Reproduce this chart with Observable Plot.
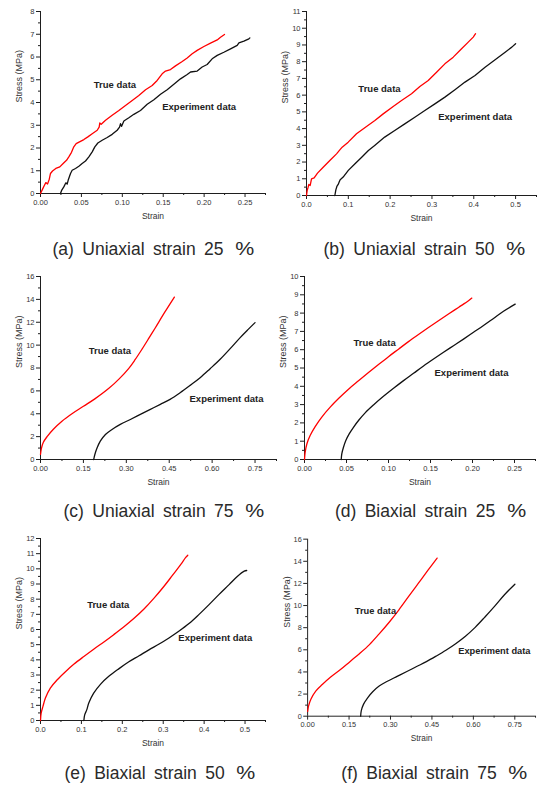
<!DOCTYPE html>
<html>
<head>
<meta charset="utf-8">
<script src="https://cdn.jsdelivr.net/npm/d3@7"></script>
<script src="https://cdn.jsdelivr.net/npm/@observablehq/plot@0.6"></script>
<style>
  html, body { margin: 0; padding: 0; background: #fff; }
  #fig { position: relative; width: 537px; height: 786px; overflow: hidden; background: #fff; }
  .panel { position: absolute; }
  .cap { position: absolute; width: 300px; height: 24px; line-height: 24px; text-align: center;
         font-family: 'Liberation Sans', Arial, sans-serif; font-size: 17.5px; color: #2a2a2a;
         word-spacing: 3.5px; white-space: nowrap; }
  .cap .pct { display: inline-block; transform: scaleX(1.22); margin-left: 5px; }
</style>
</head>
<body>
<div id="fig"></div>
<script>
// ---------- data ----------
// (a) Uniaxial strain 25 %
const aTrueStrain = [0,0.0024,0.0045,0.0065,0.0086,0.0106,0.0122,0.0147,0.0187,0.0236,0.0277,0.0318,0.0346,0.0379,0.0407,0.0436,0.0477,0.053,0.0579,0.0632,0.0693,0.0717,0.0725,0.0742,0.0795,0.0876,0.0958,0.1039,0.1121,0.1202,0.1284,0.1365,0.1426,0.1487,0.1528,0.1589,0.165,0.1732,0.1793,0.1854,0.1915,0.1997,0.2078,0.216,0.22,0.2249];
const aTrueStress = [0,0.18,0.34,0.48,0.42,0.61,0.88,0.99,1.10,1.17,1.32,1.46,1.61,1.81,2.05,2.19,2.27,2.37,2.49,2.63,2.78,2.92,3.10,3.04,3.22,3.44,3.65,3.87,4.09,4.31,4.56,4.75,4.97,5.26,5.38,5.45,5.61,5.80,5.96,6.14,6.29,6.46,6.61,6.75,6.87,6.99];
const aExpStrain = [0.0244,0.026,0.0285,0.031,0.0326,0.0338,0.0355,0.0367,0.0387,0.0428,0.0469,0.0509,0.055,0.0591,0.0632,0.0664,0.0701,0.0754,0.0815,0.0876,0.0937,0.0966,0.0978,0.099,0.1019,0.108,0.1141,0.1222,0.1304,0.1386,0.1467,0.1548,0.163,0.1711,0.1793,0.1834,0.1915,0.1976,0.2037,0.2098,0.216,0.2241,0.2323,0.2404,0.2425,0.2486,0.2547,0.2559];
const aExpStress = [0,0.15,0.29,0.47,0.41,0.58,0.76,0.88,1.02,1.10,1.20,1.32,1.43,1.61,1.83,2.05,2.22,2.34,2.46,2.60,2.78,2.92,3.07,2.95,3.19,3.33,3.48,3.65,3.92,4.12,4.36,4.56,4.80,5.04,5.23,5.34,5.38,5.56,5.67,5.92,6.07,6.21,6.36,6.51,6.62,6.70,6.80,6.84];

// (b) Uniaxial strain 50 %
const bTrueStrain = [0,0.0016,0.004,0.0056,0.0088,0.0104,0.012,0.0183,0.0263,0.0399,0.0558,0.0718,0.0797,0.0853,0.0997,0.1196,0.1435,0.1635,0.1834,0.2073,0.2273,0.2512,0.2711,0.2911,0.311,0.3309,0.3509,0.3708,0.3868,0.3987,0.4043];
const bTrueStress = [0,0.3,0.5,0.66,0.6,0.8,1.0,1.06,1.34,1.69,2.09,2.49,2.73,2.89,3.19,3.69,4.13,4.48,4.88,5.32,5.68,6.08,6.52,6.88,7.37,7.87,8.27,8.77,9.17,9.47,9.67];
const bExpStrain = [0.0678,0.0702,0.0726,0.0758,0.0781,0.0805,0.0877,0.1,0.116,0.132,0.148,0.163,0.187,0.211,0.235,0.259,0.283,0.307,0.331,0.355,0.379,0.403,0.427,0.451,0.475,0.491,0.5];
const bExpStress = [0,0.34,0.54,0.66,0.8,0.94,1.1,1.5,1.9,2.29,2.69,2.99,3.49,3.89,4.28,4.68,5.08,5.48,5.88,6.32,6.78,7.17,7.67,8.11,8.57,8.87,9.07];

// (c) Uniaxial strain 75 %
const cTrueStrain = [0,0.003,0.01,0.023,0.045,0.075,0.11,0.15,0.19,0.238,0.275,0.308,0.33,0.355,0.38,0.401,0.435,0.468];
const cTrueStress = [0.44,0.95,1.5,2.0,2.65,3.35,4.0,4.65,5.3,6.2,7.05,7.95,8.7,9.65,10.65,11.5,12.9,14.2];
const cExpStrain = [0.186,0.19,0.198,0.209,0.227,0.25,0.279,0.314,0.349,0.384,0.419,0.453,0.488,0.523,0.558,0.593,0.628,0.663,0.698,0.727,0.75];
const cExpStress = [0,0.44,1.02,1.6,2.19,2.63,3.07,3.5,3.94,4.38,4.82,5.26,5.84,6.48,7.15,7.94,8.76,9.69,10.66,11.4,11.97];

// (d) Biaxial strain 25 %
const dTrueStrain = [0,0.0008,0.0028,0.0067,0.0127,0.0206,0.0306,0.0405,0.0524,0.0643,0.0762,0.0881,0.1,0.1119,0.1238,0.1357,0.1476,0.1595,0.1714,0.1833,0.1952,0.1992];
const dTrueStress = [0,0.4,0.85,1.31,1.80,2.32,2.86,3.33,3.84,4.30,4.75,5.19,5.62,6.03,6.44,6.83,7.21,7.58,7.95,8.31,8.67,8.82];
const dExpStrain = [0.0437,0.0444,0.0464,0.0492,0.0532,0.0583,0.0643,0.0722,0.0821,0.094,0.106,0.1179,0.1298,0.1417,0.1536,0.1655,0.1774,0.1893,0.2012,0.2131,0.225,0.2369,0.2508];
const dExpStress = [0,0.31,0.67,1.04,1.4,1.76,2.13,2.55,2.98,3.45,3.89,4.31,4.71,5.11,5.49,5.86,6.22,6.58,6.95,7.32,7.71,8.1,8.49];

// (e) Biaxial strain 50 %
const eTrueStrain = [0,0.0016,0.006,0.012,0.024,0.041,0.061,0.082,0.106,0.13,0.155,0.179,0.204,0.228,0.253,0.277,0.302,0.322,0.343,0.355,0.36];
const eTrueStress = [0,0.48,0.93,1.48,2.14,2.69,3.22,3.72,4.22,4.70,5.18,5.66,6.18,6.72,7.35,8.05,8.85,9.55,10.3,10.75,10.9];
const eExpStrain = [0.106,0.108,0.113,0.118,0.13,0.147,0.167,0.192,0.216,0.241,0.265,0.29,0.314,0.338,0.363,0.387,0.412,0.436,0.461,0.481,0.498,0.504];
const eExpStress = [0,0.37,0.7,1.15,1.8,2.4,2.91,3.42,3.87,4.27,4.66,5.04,5.44,5.88,6.39,6.98,7.64,8.3,8.96,9.5,9.85,9.89];

// (f) Biaxial strain 75 %
const fTrueStrain = [0,0.0035,0.0118,0.0294,0.053,0.0824,0.1178,0.1531,0.1885,0.2238,0.2591,0.2945,0.3298,0.3651,0.4005,0.4358,0.4688];
const fTrueStress = [0.44,0.94,1.54,2.27,2.86,3.51,4.19,4.93,5.67,6.47,7.44,8.47,9.59,10.8,12.0,13.2,14.29];
const fExpStrain = [0.192,0.1943,0.2026,0.2179,0.2356,0.2591,0.2886,0.3239,0.3592,0.3946,0.4299,0.4652,0.5006,0.5359,0.5713,0.6066,0.642,0.6773,0.7126,0.7503];
const fExpStress = [0,0.5,1.09,1.68,2.21,2.72,3.16,3.6,4.04,4.49,4.93,5.43,5.96,6.55,7.23,8.03,8.97,9.95,10.98,11.93];

// tick values
const strainTicks025 = [0, 0.05, 0.10, 0.15, 0.20, 0.25];
const strainTicks050 = [0, 0.1, 0.2, 0.3, 0.4, 0.5];
const strainTicks075 = [0, 0.15, 0.30, 0.45, 0.60, 0.75];
const stressTicks8 = [0,1,2,3,4,5,6,7,8];
const stressTicks10 = [0,1,2,3,4,5,6,7,8,9,10];
const stressTicks11 = [0,1,2,3,4,5,6,7,8,9,10,11];
const stressTicks12 = [0,1,2,3,4,5,6,7,8,9,10,11,12];
const stressTicks16 = [0,2,4,6,8,10,12,14,16];

const captions = ["(a) Uniaxial strain 25", "(b) Uniaxial strain 50", "(c) Uniaxial strain 75",
                  "(d) Biaxial strain 25", "(e) Biaxial strain 50", "(f) Biaxial strain 75"];
const trueLabel = "True data";
const expLabel = "Experiment data";

// ---------- drawing ----------
const minorBetween = (ticks, end) => {
  const step = (ticks[1] - ticks[0]) / 2;
  const out = [];
  for (let i = 0; ticks[0] + i * step <= end + 1e-9; i++) {
    if (i % 2 === 1) out.push(+(ticks[0] + i * step).toFixed(6));
  }
  return out;
};

const panels = [
  {left: 0,   top: 0,   width: 268, ml: 40, mr: 3, mt: 11, mb: 37, xEnd: 0.275, yEnd: 8,
   xTicks: strainTicks025, yTicks: stressTicks8, xFmt: ".2f",
   tx: aTrueStrain, ty: aTrueStress, ex: aExpStrain, ey: aExpStress, curve: "linear",
   tl: [0.0652, 4.75], el: [0.1488, 3.81], cap: captions[0], capX: 152.5},
  {left: 268, top: 0,   width: 269, ml: 38, mr: 1, mt: 11, mb: 35, xEnd: 0.55, yEnd: 11,
   xTicks: strainTicks050, yTicks: stressTicks11, xFmt: ".1f",
   tx: bTrueStrain, ty: bTrueStress, ex: bExpStrain, ey: bExpStress, curve: "linear",
   tl: [0.124, 6.38], el: [0.315, 4.72], cap: captions[1], capX: 423.5},
  {left: 0,   top: 262, width: 280, ml: 40, mr: 4, mt: 14, mb: 33, xEnd: 0.825, yEnd: 16,
   xTicks: strainTicks075, yTicks: stressTicks16, xFmt: ".2f",
   tx: cTrueStrain, ty: cTrueStress, ex: cExpStrain, ey: cExpStress, curve: "catmull-rom",
   tl: [0.169, 9.49], el: [0.521, 5.31], cap: captions[2], capX: 163},
  {left: 268, top: 262, width: 269, ml: 36, mr: 2, mt: 14, mb: 33, xEnd: 0.275, yEnd: 10,
   xTicks: strainTicks025, yTicks: stressTicks10, xFmt: ".2f",
   tx: dTrueStrain, ty: dTrueStress, ex: dExpStrain, ey: dExpStress, curve: "catmull-rom",
   tl: [0.0583, 6.36], el: [0.1548, 4.71], cap: captions[3], capX: 429.5},
  {left: 0,   top: 524, width: 268, ml: 40, mr: 3, mt: 14, mb: 34, xEnd: 0.55, yEnd: 12,
   xTicks: strainTicks050, yTicks: stressTicks12, xFmt: ".1f",
   tx: eTrueStrain, ty: eTrueStress, ex: eExpStrain, ey: eExpStress, curve: "catmull-rom",
   tl: [0.114, 7.64], el: [0.337, 5.44], cap: captions[4], capX: 159},
  {left: 268, top: 524, width: 275, ml: 40, mr: 2, mt: 15, mb: 34, xEnd: 0.825, yEnd: 16,
   xTicks: strainTicks075, yTicks: stressTicks16, xFmt: ".2f",
   tx: fTrueStrain, ty: fTrueStress, ex: fExpStrain, ey: fExpStress, curve: "catmull-rom",
   tl: [0.1708, 9.5], el: [0.5453, 5.87], cap: captions[5], capX: 433.5}
];

const fig = document.getElementById("fig");
const ink = "#1e1e1e";

for (const p of panels) {
  const trueData = p.tx.map((x, i) => ({strain: x, stress: p.ty[i]}));
  const expData = p.ex.map((x, i) => ({strain: x, stress: p.ey[i]}));
  const svg = Plot.plot({
    width: p.width, height: 230,
    marginLeft: p.ml, marginRight: p.mr, marginTop: p.mt, marginBottom: p.mb,
    style: {fontFamily: "'Liberation Sans', Arial, sans-serif", fontSize: "7.5px", color: ink,
            background: "transparent", overflow: "visible"},
    x: {domain: [0, p.xEnd], label: null},
    y: {domain: [0, p.yEnd], label: null},
    marks: [
      Plot.axisX(minorBetween(p.xTicks, p.xEnd), {tickSize: 2, tickFormat: () => "", label: null, stroke: ink}),
      Plot.axisX(p.xTicks, {tickSize: 4, tickPadding: 2, tickFormat: d3.format(p.xFmt), label: null,
                            stroke: ink, fill: "#333", fontSize: 7.5}),
      Plot.axisY(minorBetween(p.yTicks, p.yEnd), {tickSize: 2, tickFormat: () => "", label: null, stroke: ink}),
      Plot.axisY(p.yTicks, {tickSize: 4, tickPadding: 2, tickFormat: d3.format("d"), label: null,
                            stroke: ink, fill: "#333", fontSize: 7.5}),
      Plot.ruleY([0], {stroke: ink, strokeWidth: 1}),
      Plot.ruleX([0], {stroke: ink, strokeWidth: 1}),
      Plot.text(["Strain"], {frameAnchor: "bottom", dy: 25, text: d => d, fontSize: 8.5, fill: "#333"}),
      Plot.text(["Stress (MPa)"], {frameAnchor: "left", dx: -21, rotate: -90, text: d => d, fontSize: 9, fill: "#333"}),
      Plot.line(expData, {x: "strain", y: "stress", stroke: "#111", strokeWidth: 1.3, curve: p.curve}),
      Plot.line(trueData, {x: "strain", y: "stress", stroke: "#ff0000", strokeWidth: 1.3, curve: p.curve}),
      Plot.text([p.tl], {x: d => d[0], y: d => d[1], text: () => trueLabel, textAnchor: "start",
                         fontWeight: "bold", fontSize: 9.5, fill: "#222"}),
      Plot.text([p.el], {x: d => d[0], y: d => d[1], text: () => expLabel, textAnchor: "start",
                         fontWeight: "bold", fontSize: 9.5, fill: "#222"})
    ]
  });
  const div = document.createElement("div");
  div.className = "panel";
  div.style.left = p.left + "px";
  div.style.top = p.top + "px";
  div.appendChild(svg);
  fig.appendChild(div);

  const cap = document.createElement("div");
  cap.className = "cap";
  cap.style.left = (p.capX - 150) + "px";
  cap.style.top = (p.top + 237) + "px";
  cap.innerHTML = p.cap + ' <span class="pct">%</span>';
  fig.appendChild(cap);
}
</script>
</body>
</html>
